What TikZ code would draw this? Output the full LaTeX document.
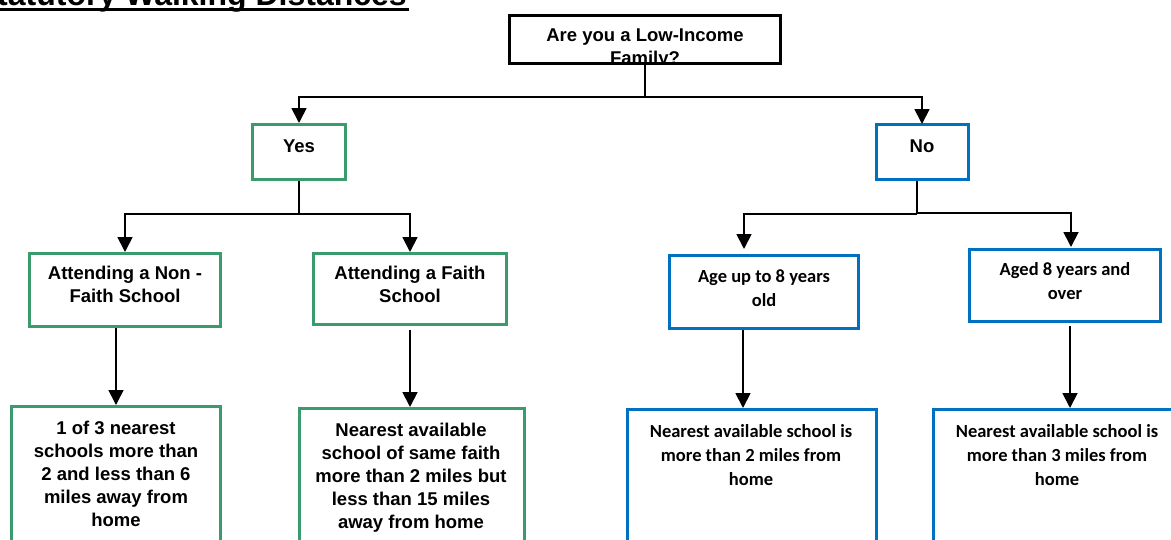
\documentclass[tikz,border=0pt]{standalone}
\usepackage{fontspec}
\setmainfont{Liberation Sans}
\newfontfamily\calfont{Carlito}
\usetikzlibrary{arrows.meta,calc}
\definecolor{boxgreen}{RGB}{58,156,108}
\definecolor{boxblue}{RGB}{0,112,192}
\begin{document}
\begin{tikzpicture}[x=1pt,y=-1pt,
  box/.style={draw, line width=3pt, inner sep=0pt, anchor=north west, fill=white},
  gbox/.style={box, draw=boxgreen},
  bbox/.style={box, draw=boxblue},
  kbox/.style={box, draw=black},
  conn/.style={line width=1.8pt, draw=black},
  arr/.style={conn, -{Triangle[width=15pt,length=15pt]}},
  txt/.style={font=\bfseries\fontsize{18.5}{23}\selectfont, align=center, inner sep=0pt, anchor=base},
  ctxt/.style={font=\calfont\bfseries\fontsize{18.5}{24}\selectfont, align=center, inner sep=0pt, anchor=base},
]
\useasboundingbox (0,0) rectangle (1171,539);
\clip (0,0) rectangle (1171,539);

% title (cut off at the top)
\node[font=\bfseries\fontsize{32}{36}\selectfont, inner sep=0pt, anchor=base east] (title) at (407,5) {Statutory Walking Distances};
\fill (0,7.5) rectangle (409,10.5);

% boxes (positions are outer corners)
\node[kbox, minimum width=271pt, minimum height=48pt] (top) at (508,14) {};
\node[gbox, minimum width=93pt, minimum height=55pt] (yes) at (251,123) {};
\node[bbox, minimum width=92pt, minimum height=55pt] (no) at (875,123) {};
\node[gbox, minimum width=191pt, minimum height=73pt] (nonfaith) at (28,252) {};
\node[gbox, minimum width=193pt, minimum height=71pt] (faith) at (312,252) {};
\node[bbox, minimum width=189pt, minimum height=73pt] (age) at (668,254) {};
\node[bbox, minimum width=191pt, minimum height=72pt] (aged) at (968,248) {};
\node[gbox, minimum width=209pt, minimum height=160pt] (bl1) at (10,405) {};
\node[gbox, minimum width=225pt, minimum height=160pt] (bl2) at (298,407) {};
\node[bbox, minimum width=249pt, minimum height=160pt] (br1) at (626,408) {};
\node[bbox, minimum width=260pt, minimum height=160pt] (br2) at (932,408) {};

% texts (anchor = baseline of the last line)
\begin{scope}
\clip (510,17) rectangle (779,62);
\node[txt] (toptxt) at (645,64.5) {Are you a Low-Income\\Family?};
\end{scope}
\node[txt] (yestxt) at (299,152) {Yes};
\node[txt] (notxt) at (922,152) {No};
\node[txt] (nonfaithtxt) at (125,302) {Attending a Non -\\Faith School};
\node[txt] (faithtxt) at (410,302) {Attending a Faith\\School};
\node[ctxt] (agetxt) at (764,306) {Age up to 8 years\\old};
\node[ctxt] (agedtxt) at (1065,299) {Aged 8 years and\\over};
\node[txt] (bl1txt) at (116,526) {1 of 3 nearest\\schools more than\\2 and less than 6\\miles away from\\home};
\node[txt] (bl2txt) at (411,528) {Nearest available\\school of same faith\\more than 2 miles but\\less than 15 miles\\away from home};
\node[ctxt] (br1txt) at (751,485) {Nearest available school is\\more than 2 miles from\\home};
\node[ctxt] (br2txt) at (1057,485) {Nearest available school is\\more than 3 miles from\\home};

% connectors
\coordinate (j0) at (645,97);
\coordinate (jy) at (299,214);
\coordinate (jnl) at (917,214);
\coordinate (jnr) at (917,213);
\coordinate (ageN) at (744,249);
\coordinate (agedN) at (1071,247);
\coordinate (noS) at (917,181);
\coordinate (noN) at (922,124);
\draw[conn] (top.south) -- (j0);
\draw[arr] (j0) -| (yes.north);
\draw[arr] (j0) -| (noN);
\draw[conn] (yes.south) -- (jy);
\draw[arr] (jy) -| (nonfaith.north);
\draw[arr] (jy) -| (faith.north);
\draw[conn] (noS) -- (jnl);
\draw[arr] (jnl) -| (ageN);
\draw[arr] (jnr) -| (agedN);
\coordinate (nfS) at (116,328);
\coordinate (fS) at (410,330);
\coordinate (aS) at (743,330);
\coordinate (adS) at (1070,326);
\draw[arr] (nfS) -- (bl1.north -| nfS);
\draw[arr] (fS) -- (bl2.north -| fS);
\draw[arr] (aS) -- (br1.north -| aS);
\draw[arr] (adS) -- (br2.north -| adS);
\end{tikzpicture}
\end{document}
